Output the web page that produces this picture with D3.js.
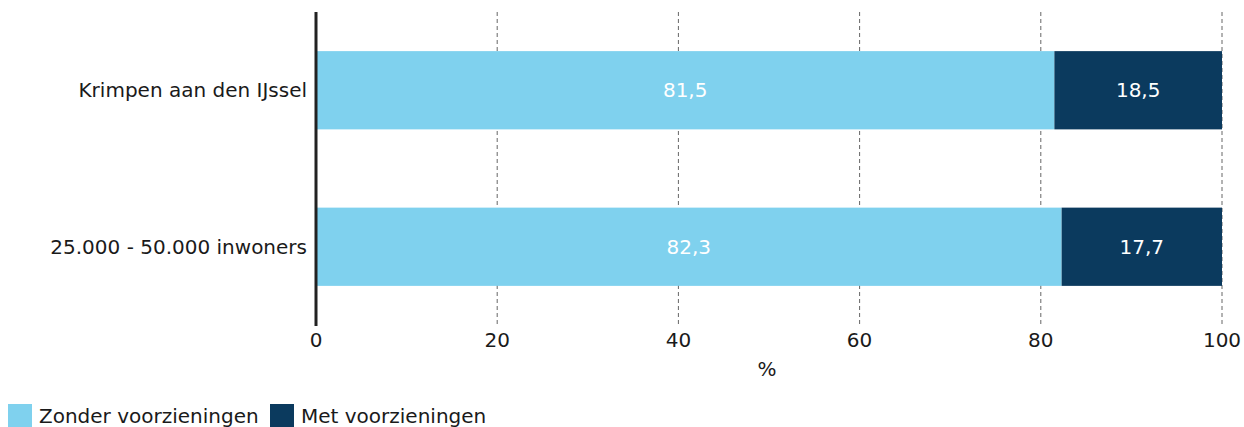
<!DOCTYPE html>
<html lang="nl">
<head>
  <meta charset="UTF-8">
  <script src="https://d3js.org/d3.v7.min.js"></script>
  <style>
    body { margin: 0; background: #fff; }
    svg { display: block; font-family: "DejaVu Sans", Verdana, sans-serif; }
    .grid line { stroke: #666; stroke-dasharray: 4,3; stroke-width: 1px; }
  </style>
</head>
<body>
  <div id="chart"></div>
  <script>
    // data
    const categories = ['Krimpen aan den IJssel', '25.000 - 50.000 inwoners'];
    const seriesNames = ['Zonder voorzieningen', 'Met voorzieningen'];
    const zonder = [81.5, 82.3];
    const met = [18.5, 17.7];
    const ticks = [0, 20, 40, 60, 80, 100];
    const colors = ['#7fd1ee', '#0b3a5e'];

    const width = 1244, height = 427;
    const fs = '20px';
    const svg = d3.select('#chart').append('svg').attr('width', width).attr('height', height);

    const x = d3.scaleLinear().domain([0, 100]).range([316, 1222]);
    const y = d3.scaleBand().domain(categories).range([12, 325]).paddingInner(0.5).paddingOuter(0.25);

    // gridlines
    svg.append('g').attr('class', 'grid')
      .selectAll('line')
      .data(ticks.filter(t => t > 0))
      .enter().append('line')
      .attr('x1', d => x(d)).attr('x2', d => x(d))
      .attr('y1', 12).attr('y2', 327);

    // stacked bars
    const rows = categories.map((c, i) => ({ cat: c, vals: [zonder[i], met[i]] }));
    rows.forEach(r => {
      let start = 0;
      r.vals.forEach((v, j) => {
        svg.append('rect')
          .attr('x', x(start))
          .attr('y', y(r.cat))
          .attr('width', x(start + v) - x(start))
          .attr('height', y.bandwidth())
          .attr('fill', colors[j]);
        svg.append('text')
          .attr('x', x(start + v / 2))
          .attr('y', y(r.cat) + y.bandwidth() / 2)
          .attr('dy', '0.35em')
          .attr('text-anchor', 'middle')
          .attr('fill', '#fff')
          .style('font-size', fs)
          .text(d3.format('.1f')(v).replace('.', ','));
        start += v;
      });
    });

    // y axis line + labels
    svg.append('line')
      .attr('x1', 316).attr('x2', 316)
      .attr('y1', 12).attr('y2', 326)
      .attr('stroke', '#222').attr('stroke-width', 3);

    svg.selectAll('text.cat')
      .data(categories)
      .enter().append('text')
      .attr('class', 'cat')
      .attr('x', 307)
      .attr('y', d => y(d) + y.bandwidth() / 2)
      .attr('dy', '0.35em')
      .attr('text-anchor', 'end')
      .attr('fill', '#1a1a1a')
      .style('font-size', fs)
      .text(d => d);

    // x tick labels
    svg.selectAll('text.tick')
      .data(ticks)
      .enter().append('text')
      .attr('class', 'tick')
      .attr('x', d => x(d))
      .attr('y', 347)
      .attr('text-anchor', 'middle')
      .attr('fill', '#1a1a1a')
      .style('font-size', fs)
      .text(d => d);

    svg.append('text')
      .attr('x', 767).attr('y', 376)
      .attr('text-anchor', 'middle')
      .attr('fill', '#1a1a1a')
      .style('font-size', fs)
      .text('%');

    // legend
    const legX = [8, 270];
    seriesNames.forEach((s, i) => {
      svg.append('rect')
        .attr('x', legX[i]).attr('y', 404)
        .attr('width', 24).attr('height', 23)
        .attr('fill', colors[i]);
      svg.append('text')
        .attr('x', legX[i] + 31).attr('y', 423)
        .attr('fill', '#1a1a1a')
        .style('font-size', fs)
        .text(s);
    });
  </script>
</body>
</html>
